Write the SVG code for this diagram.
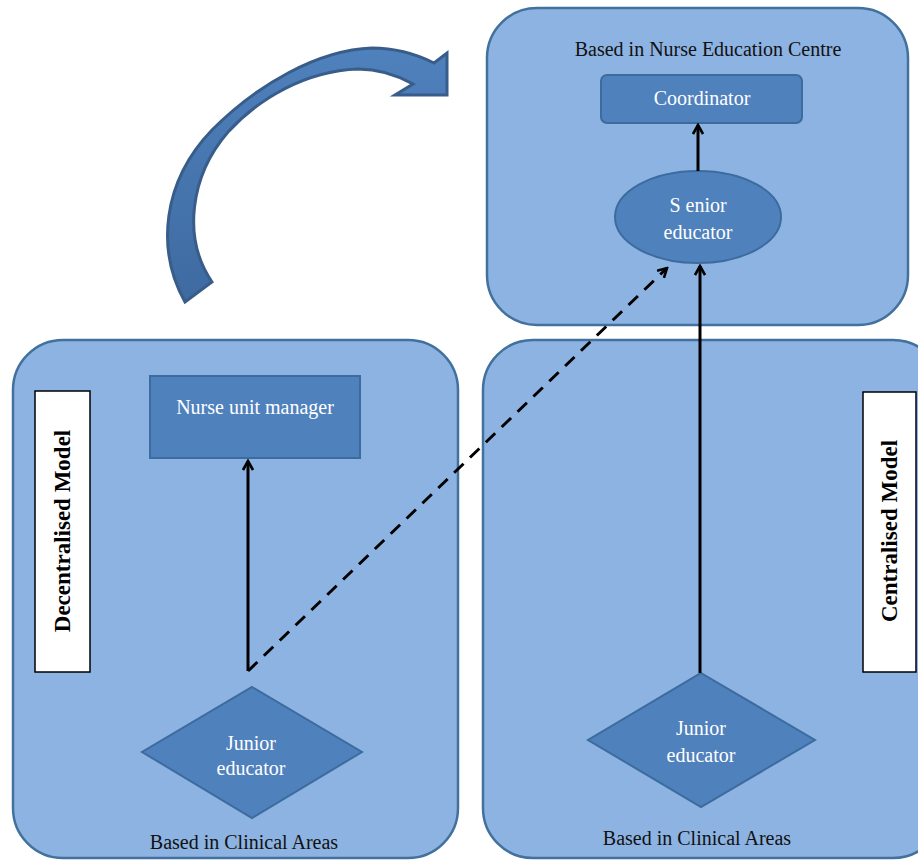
<svg xmlns="http://www.w3.org/2000/svg" width="918" height="861" viewBox="0 0 918 861">
<defs>
<marker id="open" viewBox="0 0 12 12" refX="10" refY="6" markerWidth="12" markerHeight="12" markerUnits="userSpaceOnUse" orient="auto">
<path d="M1,1 L10,6 L1,11" fill="none" stroke="#000" stroke-width="2.6"/>
</marker>
<linearGradient id="arrowFill" x1="0" y1="0" x2="0" y2="1">
<stop offset="0" stop-color="#4F81BD"/>
<stop offset="1" stop-color="#3E6AA0"/>
</linearGradient>
</defs>
<style>
.area{fill:#8DB3E2;stroke:#41719C;stroke-width:2.5}
.node{fill:#4F81BD;stroke:#3C6B9E;stroke-width:2}
.ntext{font-family:"Liberation Serif",serif;font-size:20px;fill:#fff;text-anchor:middle}
.ltext{font-family:"Liberation Serif",serif;font-size:20px;fill:#111;text-anchor:middle}
.label{fill:#fff;stroke:#000;stroke-width:1.5}
.mtext{font-family:"Liberation Serif",serif;font-size:23px;font-weight:bold;fill:#000;text-anchor:middle}
.conn{fill:none;stroke:#000;stroke-width:3}
</style>
<rect width="918" height="861" fill="#fff"/>

<g id="curved-arrow">
<path d="M185,302 C156,250 162,182 212,130 C258,84 318,50 372,48 C398,48 418,55 434,63 L447,53 L447,95 L395,95 L413,84 C395,74 378,69 358,69 C305,71 258,99 228,132 C190,176 182,238 212,282 Z" fill="url(#arrowFill)" stroke="#385D8A" stroke-width="3" stroke-linejoin="miter"/>
</g>

<g id="nurse-education-centre">
<rect class="area" x="487" y="8" width="421" height="317" rx="50"/>
<text class="ltext" x="708" y="56">Based in Nurse Education Centre</text>
</g>

<g id="decentralised-area">
<rect class="area" x="13" y="340" width="445" height="518" rx="50"/>
<text class="ltext" x="244" y="849">Based in Clinical  Areas</text>
</g>

<g id="centralised-area">
<rect class="area" x="483" y="340" width="460" height="518" rx="50"/>
<text class="ltext" x="697" y="845">Based in Clinical  Areas</text>
</g>

<g id="decentralised-label">
<rect class="label" x="35" y="391" width="55" height="281"/>
<text class="mtext" transform="translate(70,531) rotate(-90)">Decentralised Model</text>
</g>

<g id="centralised-label">
<rect class="label" x="863" y="392" width="53" height="280"/>
<text class="mtext" transform="translate(897,531) rotate(-90)">Centralised Model</text>
</g>

<g id="coordinator">
<rect class="node" x="601" y="75" width="201" height="48" rx="6"/>
<text class="ntext" x="702" y="105">Coordinator</text>
</g>

<g id="senior-educator">
<ellipse class="node" cx="698" cy="217" rx="83" ry="46"/>
<text class="ntext" x="698" y="212">S enior</text>
<text class="ntext" x="698" y="239">educator</text>
</g>

<g id="nurse-unit-manager">
<rect class="node" x="150" y="376" width="210" height="82"/>
<text class="ntext" x="255" y="414">Nurse unit manager</text>
</g>

<g id="junior-educator-left">
<polygon class="node" points="252,687 362,752 252,818 142,752"/>
<text class="ntext" x="251" y="750">Junior</text>
<text class="ntext" x="251" y="775">educator</text>
</g>

<g id="junior-educator-right">
<polygon class="node" points="701,673 815,740 701,807 588,740"/>
<text class="ntext" x="701" y="735">Junior</text>
<text class="ntext" x="701" y="762">educator</text>
</g>

<g id="connectors">
<line class="conn" x1="698" y1="171" x2="698" y2="125" marker-end="url(#open)"/>
<line class="conn" x1="248" y1="671" x2="248" y2="461" marker-end="url(#open)"/>
<line class="conn" x1="700" y1="673" x2="700" y2="266" marker-end="url(#open)"/>
<line class="conn" x1="248" y1="671" x2="667" y2="268" stroke-dasharray="13,9" marker-end="url(#open)"/>
</g>
</svg>
